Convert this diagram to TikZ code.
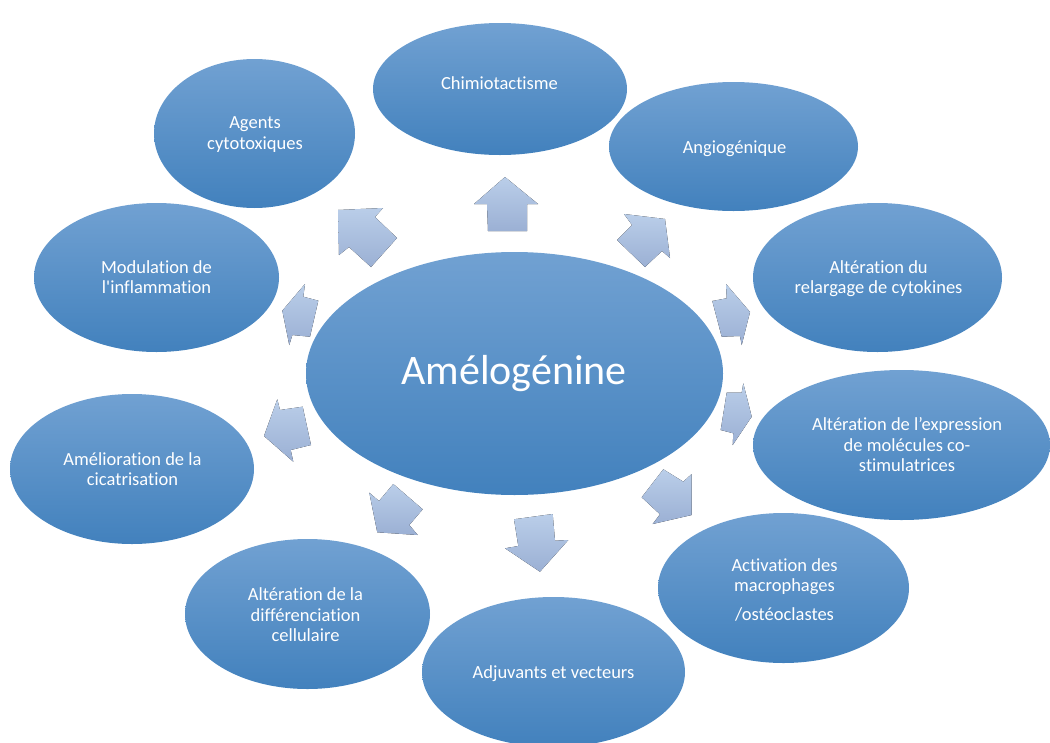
\documentclass[tikz,border=0pt]{standalone}
\usepackage{fontspec}
\setmainfont{Carlito}[Ligatures={NoCommon}]
\usetikzlibrary{shapes.geometric}
\definecolor{etop}{RGB}{113,161,210}
\definecolor{emid}{RGB}{84,149,207}
\definecolor{ebot}{RGB}{66,129,189}
\definecolor{atop}{RGB}{186,206,233}
\definecolor{abot}{RGB}{155,176,212}
\begin{document}
\begin{tikzpicture}[x=1pt,y=-1pt,
  bub/.style={ellipse, draw=none, inner sep=0pt, top color=etop, middle color=emid, bottom color=ebot},
  lbl/.style={text=white, align=center, inner sep=0pt, font=\fontsize{18.5}{20.5}\selectfont},
  bigl/.style={text=white, inner sep=0pt, font=\fontsize{42}{48}\selectfont},
  barr/.style={draw=none, top color=atop, bottom color=abot}]
\path[use as bounding box] (0,0) rectangle (1050,742);
\clip (0,0) rectangle (1050,742);
% ellipses
\node[bub, minimum width=417, minimum height=243] (amel) at (514.5,373.5) {};
\node[bub, minimum width=254, minimum height=132] (chim) at (500,89) {};
\node[bub, minimum width=249, minimum height=129] (angio) at (733.5,146.5) {};
\node[bub, minimum width=201, minimum height=149] (agents) at (254.5,133.5) {};
\node[bub, minimum width=245, minimum height=149] (modul) at (156.5,277.5) {};
\node[bub, minimum width=249, minimum height=149] (relarg) at (877.5,277.5) {};
\node[bub, minimum width=244, minimum height=150] (amelio) at (132,469) {};
\node[bub, minimum width=297, minimum height=150] (expr) at (901.5,445) {};
\node[bub, minimum width=251, minimum height=150] (activ) at (783.5,588) {};
\node[bub, minimum width=263, minimum height=150] (adjuv) at (553.5,672) {};
\node[bub, minimum width=245, minimum height=150] (differ) at (307.5,614) {};
% labels
\node[bigl] (tamel) at (514,374) {Amélogénine};
\node[lbl] (tchim) at (499.5,83.5) {Chimiotactisme};
\node[lbl] (tangio) at (734.5,149) {Angiogénique};
\node[lbl] (tagents) at (255,134.5) {Agents\\cytotoxiques};
\node[lbl] (tmodul) at (156.5,277) {Modulation de\\l\textquotesingle inflammation};
\node[lbl] (trelarg) at (878.5,278.5) {Altération du\\relargage de cytokines};
\node[lbl] (tamelio) at (132.5,469) {Amélioration de la\\cicatrisation};
\node[lbl] (texpr) at (907,445) {Altération de l’expression\\de molécules co-\\stimulatrices};
\node[lbl] (tactiv) at (784.5,590) {Activation des\\macrophages\\[8.5pt]/ostéoclastes};
\node[lbl] (tadjuv) at (553.5,674) {Adjuvants et vecteurs};
\node[lbl] (tdiffer) at (305.5,615) {Altération de la\\différenciation\\cellulaire};
% block arrows
\fill[barr] (505,177) -- (538,204) -- (527,204) -- (527,231) -- (488,231) -- (487,204) -- (474,204) -- cycle;
\fill[barr] (338,210) -- (383,208) -- (375,217) -- (397,238) -- (371,267) -- (349,247) -- (339,255) -- cycle;
\fill[barr] (665,219) -- (670,258) -- (662,251) -- (645,267) -- (617,240) -- (632,225) -- (624,214) -- cycle;
\fill[barr] (750,312) -- (726,284) -- (726.7,298.3) -- (712.3,301) -- (721.7,336.7) -- (740,336) -- (741.7,345) -- cycle;
\fill[barr] (751.7,416.7) -- (743.3,383.3) -- (741.7,392.7) -- (726.7,392.7) -- (720.7,430) -- (733.3,433.3) -- (732.7,445) -- cycle;
\fill[barr] (691.7,515) -- (691.7,474) -- (683.3,481.7) -- (663.3,469.3) -- (641.7,497.3) -- (660,514.3) -- (652.7,524) -- cycle;
\fill[barr] (540,571.7) -- (568.3,540) -- (555,540.7) -- (552.7,514) -- (514,519.3) -- (518.3,546) -- (505,548.3) -- cycle;
\fill[barr] (377.3,532.3) -- (417.7,535) -- (409.3,525) -- (422.7,509.3) -- (393.3,484) -- (379,501) -- (369.3,492.7) -- cycle;
\fill[barr] (264,436) -- (277.3,399.3) -- (280,410) -- (302.7,406.7) -- (311,445) -- (290.7,450) -- (293.3,461.7) -- cycle;
\fill[barr] (282.3,310.7) -- (305,284) -- (303.3,296.7) -- (318.3,300.7) -- (310,336.7) -- (292.3,335) -- (289.3,345) -- cycle;
\end{tikzpicture}
\end{document}
